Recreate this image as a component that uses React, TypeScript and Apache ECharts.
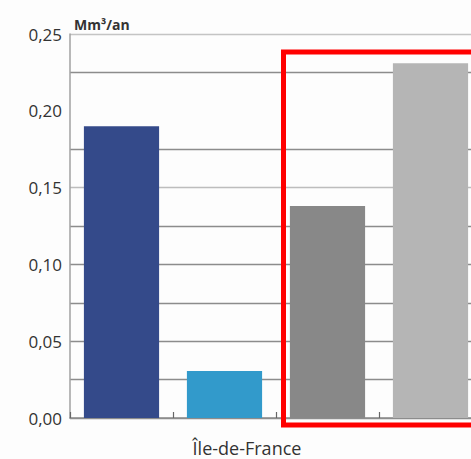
import React, { useEffect, useRef } from "react";
import * as echarts from "echarts";

const categories = ["Île-de-France 1", "Île-de-France 2", "Île-de-France 3", "Île-de-France 4"];
const values = [0.19, 0.0306, 0.138, 0.231];
const barColors = ["#344a8a", "#329acb", "#888888", "#b5b5b5"];
const yTicks = [0, 0.05, 0.1, 0.15, 0.2, 0.25];
const axisTitle = "Mm³/an";
const regionLabel = "Île-de-France";

// split line colours per 0.025 step (index 0 = 0,00 ... index 10 = 0,25)
const splitColors = [
  "#8c8c8c", "#8c8c8c", "#8c8c8c", "#8c8c8c", "#8c8c8c", "#8c8c8c",
  "#bdbdbd", "#8c8c8c", "rgba(0,0,0,0)", "#8c8c8c", "#c4c4c4",
];

const FONT = "'Open Sans', 'Noto Sans', sans-serif";

export default function App() {
  const ref = useRef<HTMLDivElement>(null);
  useEffect(() => {
    if (!ref.current) return;
    const chart = echarts.init(ref.current, undefined, { renderer: "svg" });
    chart.setOption({
      animation: false,
      backgroundColor: "#fdfdfd",
      title: {
        text: axisTitle,
        left: 69,
        top: 12,
        textStyle: { fontFamily: FONT, fontSize: 14, fontWeight: "bold", color: "#333" },
      },
      grid: {
        left: 70,
        top: 34,
        bottom: 41,
        right: -11,
        containLabel: false,
        outerBoundsMode: "none",
      },
      xAxis: {
        type: "category",
        data: categories,
        axisLine: { show: true, lineStyle: { color: "#8c8c8c", width: 1.5 } },
        axisTick: {
          show: true,
          inside: true,
          length: 6,
          interval: 0,
          alignWithLabel: false,
          lineStyle: { color: "#666", width: 1.2 },
        },
        axisLabel: { show: false, interval: 0 },
        name: regionLabel,
        nameLocation: "middle",
        nameGap: 21,
        nameTextStyle: { fontFamily: FONT, fontSize: 18, color: "#333", padding: [0, 58, 0, 0] },
      },
      yAxis: {
        type: "value",
        min: 0,
        max: 0.25,
        interval: 0.025,
        axisLine: { show: true, lineStyle: { color: "#a0a0a0", width: 1.5 } },
        axisTick: { show: false },
        axisLabel: {
          fontFamily: FONT,
          fontSize: 17,
          color: "#333",
          margin: 8,
          formatter: (v: number) => {
            const hit = yTicks.find((t) => Math.abs(t - v) < 1e-6);
            return hit === undefined ? "" : hit.toFixed(2).replace(".", ",");
          },
        },
        splitLine: { show: true, lineStyle: { color: splitColors, width: 1.3 } },
      },
      series: [
        {
          type: "bar",
          barWidth: "73%",
          data: values.map((v, i) => ({ value: v, itemStyle: { color: barColors[i] } })),
        },
      ],
      graphic: [
        {
          type: "rect",
          shape: { x: 283.5, y: 52, width: 200, height: 373 },
          style: { fill: "none", stroke: "#ff0000", lineWidth: 5 },
          z: 100,
        },
      ],
    });
    return () => chart.dispose();
  }, []);
  return (
    <div
      ref={ref}
      style={{ position: "absolute", left: 0, top: 0, width: 471, height: 459 }}
    />
  );
}
